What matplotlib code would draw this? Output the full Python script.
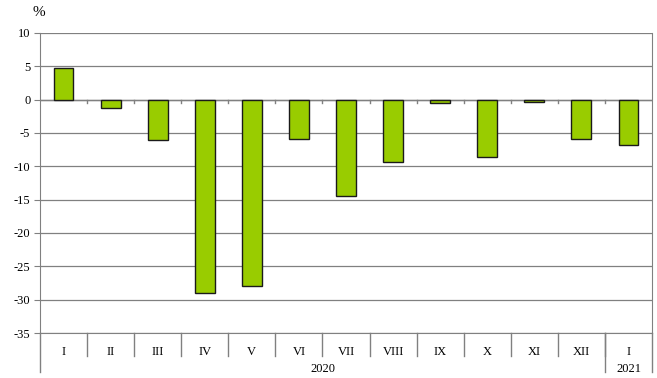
import matplotlib.pyplot as plt
import matplotlib.transforms as mtransforms

months = ["I", "II", "III", "IV", "V", "VI", "VII", "VIII", "IX", "X", "XI", "XII", "I"]
values = [4.7, -1.2, -6.0, -29.0, -27.9, -5.9, -14.4, -9.3, -0.5, -8.6, -0.4, -5.9, -6.8]
years = ["2020", "2021"]
year_counts = [12, 1]

plt.rcParams["font.family"] = ["Liberation Serif", "DejaVu Serif"]
plt.rcParams["axes.unicode_minus"] = False

fig = plt.figure(figsize=(6.57, 3.78), dpi=100)
ax = fig.add_axes([40 / 657, 45 / 378, 612 / 657, 300 / 378])

x = list(range(len(months)))
ax.bar(x, values, width=0.42, color="#99cc00", edgecolor="#1a1a1a", linewidth=1, zorder=3)

ax.set_ylim(-35, 10)
ax.set_xlim(-0.5, len(months) - 0.5)
ax.set_yticks(range(-35, 11, 5))
ax.tick_params(axis="y", labelsize=9, length=4, color="#808080", pad=3)
ax.yaxis.grid(True, color="#808080", linewidth=0.9, zorder=0)
ax.set_xticks([])

ax.spines["top"].set_visible(False)
ax.spines["left"].set_color("#808080")
ax.spines["right"].set_color("#808080")
ax.spines["bottom"].set_color("#808080")

# zero line with small category ticks
ax.axhline(0, color="#808080", linewidth=1, zorder=2)
for i in range(1, len(months)):
    ax.plot([i - 0.5, i - 0.5], [0, -0.5], color="#808080", linewidth=1, zorder=2)

trans = mtransforms.blended_transform_factory(ax.transData, ax.transAxes)

# category separators and labels
for i, m in enumerate(months):
    ax.text(i, -0.062, m, transform=trans, ha="center", va="center", fontsize=9)
for i in range(1, len(months)):
    ax.plot([i - 0.5, i - 0.5], [0, -0.075], transform=trans, color="#808080",
            linewidth=1, clip_on=False)

# year groups
start = 0
bounds = [-0.5]
for y, n in zip(years, year_counts):
    ax.text(start + n / 2 - 0.5, -0.12, y, transform=trans, ha="center", va="center", fontsize=9)
    start += n
    bounds.append(start - 0.5)
for b in bounds:
    ax.plot([b, b], [0, -0.13], transform=trans, color="#808080", linewidth=1, clip_on=False)

ax.text(-0.012, 1.07, "%", transform=ax.transAxes, ha="left", va="center", fontsize=11)

fig.savefig("out.png", dpi=100)
